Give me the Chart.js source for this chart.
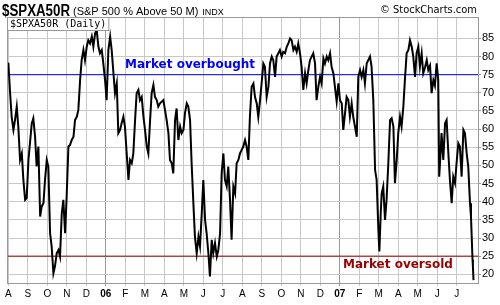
<!DOCTYPE html>
<html>
<head>
<meta charset="utf-8">
<script src="https://cdn.jsdelivr.net/npm/chart.js@4.4.1/dist/chart.umd.min.js"></script>
<style>
  html, body { margin: 0; padding: 0; background: #fff; }
  #wrap { position: relative; width: 500px; height: 305px; }
  canvas { position: absolute; left: 0; top: 0; }
</style>
</head>
<body>
<div id="wrap"><canvas id="c" width="500" height="305"></canvas></div>
<script>
// ---- Data ----
// months since 1 Aug 2005
const monthPos = [
 -0.06,0.00,0.09,0.17,0.26,0.34,0.43,0.51,0.60,0.69,0.77,0.86,0.94,1.03,1.20,1.28,1.37,1.45,1.54,1.63,1.71,1.80,1.88,1.97,
 2.05,2.14,2.22,2.31,2.39,2.48,2.57,2.65,2.74,2.82,2.91,2.99,3.08,3.16,3.25,3.34,3.42,3.51,3.59,3.68,3.76,3.85,3.93,
 4.02,4.10,4.19,4.28,4.36,4.45,4.53,4.62,4.70,4.79,4.87,4.96,5.04,5.13,5.22,5.30,5.39,5.47,5.56,5.64,5.73,5.81,5.90,
 5.98,6.07,6.16,6.24,6.33,6.41,6.50,6.58,6.67,6.75,6.84,6.93,7.01,7.10,7.18,7.27,7.35,7.44,7.52,7.61,7.69,7.78,7.95,
 8.12,8.21,8.29,8.38,8.46,8.55,8.63,8.72,8.81,8.89,8.98,9.06,9.15,9.23,9.32,9.40,9.49,9.57,9.66,9.75,9.83,9.92,10.00,
 10.09,10.17,10.26,10.34,10.43,10.51,10.60,10.69,10.77,10.86,10.94,11.03,11.11,11.20,11.28,11.37,11.45,11.54,11.63,
 11.71,11.80,11.88,11.97,12.05,12.14,12.22,12.31,12.39,12.48,12.57,12.65,12.74,12.82,12.91,12.99,13.08,13.16,13.25,
 13.34,13.42,13.51,13.59,13.68,13.76,13.85,13.93,14.02,14.10,14.19,14.28,14.36,14.45,14.53,14.62,14.70,14.79,14.87,
 14.96,15.04,15.13,15.22,15.30,15.39,15.47,15.64,15.73,15.81,15.90,15.99,16.07,16.16,16.24,16.33,16.41,16.50,16.58,
 16.67,16.75,16.84,16.93,17.01,17.10,17.18,17.27,17.35,17.44,17.52,17.61,17.69,17.78,17.87,17.95,18.04,18.12,18.21,
 18.29,18.38,18.46,18.55,18.63,18.72,18.81,18.89,18.98,19.03,19.10,19.15,19.23,19.32,19.40,19.49,19.58,19.66,19.75,
 19.83,19.92,20.00,20.09,20.17,20.26,20.34,20.43,20.52,20.60,20.69,20.77,20.86,20.94,21.03,21.11,21.20,21.28,21.37,
 21.46,21.54,21.63,21.71,21.80,21.88,21.97,22.05,22.10,22.17,22.22,22.31,22.40,22.48,22.57,22.65,22.74,22.82,22.91,
 22.99,23.08,23.16,23.25,23.34,23.42,23.51,23.59,23.68,23.73,23.81,23.83,23.86
];
// percent of S&P 500 stocks above their 50-day moving average
const pctAbove50 = [
 75.4,78.3,69.9,63.4,59.8,62.5,66.2,60.7,51.5,53.3,46.0,40.5,41.0,51.5,61.6,63.0,57.9,49.7,55.2,35.9,38.7,39.6,46.0,51.5,
 49.7,31.3,27.7,20.3,22.2,25.8,26.7,24.9,36.8,40.5,31.3,41.4,55.2,55.6,57.0,57.9,62.5,63.4,65.3,73.5,79.0,81.8,79.0,
 82.7,84.5,83.6,85.5,82.7,86.4,87.3,82.7,80.9,81.8,78.1,73.5,68.0,81.8,85.5,81.8,75.4,69.9,72.6,58.9,59.8,61.6,63.4,
 60.7,53.3,46.0,51.5,50.6,53.3,62.5,69.9,70.8,68.0,68.9,63.4,59.8,55.2,53.3,62.5,69.9,72.2,68.9,68.0,66.2,67.1,68.0,
 62.5,58.9,51.5,50.6,47.8,62.5,65.7,57.0,60.7,58.9,59.8,64.4,67.1,66.2,62.5,50.6,39.6,30.4,25.8,30.4,27.7,36.8,46.0,
 35.0,31.3,25.8,19.4,29.5,25.8,28.6,24.9,26.7,31.3,47.8,53.3,46.0,44.2,49.7,40.5,29.5,44.2,42.3,
 50.6,51.5,53.3,54.3,55.2,57.0,55.2,51.5,63.4,71.7,72.6,68.9,67.1,63.4,68.0,72.6,78.1,77.2,68.9,
 71.7,78.1,80.0,79.0,74.4,80.0,80.9,81.8,80.0,81.3,80.9,82.7,83.6,85.0,84.5,81.8,82.7,81.3,83.6,
 80.9,77.2,70.8,75.4,72.6,76.3,79.0,80.9,78.1,68.0,71.7,74.4,72.6,79.5,78.1,80.0,79.0,80.9,77.2,
 75.4,71.7,67.6,72.6,68.0,67.1,59.8,64.4,68.9,68.0,63.4,67.1,63.4,60.7,57.9,74.4,76.3,74.4,76.3,
 72.6,78.1,79.0,80.0,77.2,68.0,48.8,46.0,32.2,26.3,36.8,42.3,44.2,35.0,40.5,50.6,62.5,63.0,60.7,
 45.1,51.5,58.9,63.4,60.7,66.2,73.5,80.9,81.8,84.5,82.7,80.0,74.4,80.9,82.7,77.2,80.9,75.4,77.0,
 79.0,76.3,77.5,69.9,73.5,72.0,78.1,73.5,46.9,53.3,58.9,51.5,61.6,62.5,53.3,46.0,39.6,46.9,45.1,
 50.6,56.1,55.2,46.9,59.8,58.9,53.3,49.7,39.6,35.9,24.0,22.0,18.4
];
const monthLabels = ['A','S','O','N','D','06','F','M','A','M','J','J','A','S','O','N','D','07','F','M','A','M','J','J'];
const yTicks = [20,25,30,35,40,45,50,55,60,65,70,75,80,85];
const overbought = 75;
const oversold = 25;
const xMin = -0.07, xMax = 24.09;

const points = monthPos.map((m, i) => ({ x: m, y: pctAbove50[i] }));

const decor = {
  id: 'decor',
  afterDatasetsDraw(chart) {
    const { ctx, scales: { y } } = chart;
    ctx.save();
    ctx.font = 'bold 12px "DejaVu Sans"';
    ctx.textBaseline = 'middle';
    ctx.fillStyle = '#0000ff';
    ctx.fillText('Market overbought', 125, y.getPixelForValue(overbought) - 10);
    ctx.fillStyle = '#990000';
    ctx.fillText('Market oversold', 343, y.getPixelForValue(oversold) + 9);
    ctx.restore();
  },
  afterDraw(chart) {
    const { ctx, chartArea: a } = chart;
    ctx.save();
    ctx.strokeStyle = '#999999';
    ctx.lineWidth = 1;
    ctx.strokeRect(a.left + 0.5, a.top + 0.5, a.right - a.left, a.bottom - a.top);
    // inner legend box
    ctx.font = '10px "DejaVu Sans Mono"';
    const txt = '$SPXA50R (Daily)';
    const w = ctx.measureText(txt).width;
    ctx.fillStyle = '#ffffff';
    ctx.fillRect(a.left + 1, a.top + 1, w + 4, 12);
    ctx.strokeStyle = '#999999';
    ctx.strokeRect(a.left + 0.5, a.top + 0.5, w + 5, 13);
    ctx.fillStyle = '#000000';
    ctx.textBaseline = 'middle';
    ctx.fillText(txt, a.left + 3, a.top + 7.5);
    // header
    ctx.textBaseline = 'alphabetic';
    ctx.font = 'bold 16px "Liberation Sans"';
    const tw = ctx.measureText('$SPXA50R').width;
    ctx.save();
    ctx.translate(2, 15.5);
    ctx.scale(68 / tw, 1);
    ctx.fillText('$SPXA50R', 0, 0);
    ctx.restore();
    let x = 73;
    ctx.font = '11px "Liberation Sans"';
    ctx.fillText('(S&P 500 % Above 50 M)', x, 15);
    x += ctx.measureText('(S&P 500 % Above 50 M)').width + 4;
    ctx.font = '9px "Liberation Sans"';
    ctx.fillText('INDX', x, 15);
    ctx.font = '11px "DejaVu Sans Condensed", "DejaVu Sans"';
    ctx.textAlign = 'right';
    ctx.fillText('\u00A9 StockCharts.com', 477, 13);
    ctx.restore();
  }
};

new Chart(document.getElementById('c'), {
  type: 'line',
  data: {
    datasets: [
      {
        data: points,
        borderColor: '#000000',
        borderWidth: 2,
        pointRadius: 0,
        tension: 0,
        fill: false,
        order: 0
      },
      {
        data: [{ x: xMin, y: overbought }, { x: xMax, y: overbought }],
        borderColor: '#0000ff',
        borderWidth: 1,
        pointRadius: 0,
        fill: false,
        order: 1
      },
      {
        data: [{ x: xMin, y: oversold }, { x: xMax, y: oversold }],
        borderColor: '#990000',
        borderWidth: 1,
        pointRadius: 0,
        fill: false,
        order: 2
      }
    ]
  },
  options: {
    responsive: false,
    animation: false,
    events: [],
    layout: { padding: { left: 7, top: 17, right: 0, bottom: 0 } },
    plugins: { legend: { display: false }, tooltip: { enabled: false }, title: { display: false } },
    scales: {
      x: {
        type: 'linear',
        min: xMin,
        max: xMax,
        afterBuildTicks(s) { s.ticks = monthLabels.map((_, i) => ({ value: i })); },
        afterFit(s) { s.height = 22; },
        ticks: {
          autoSkip: false,
          maxRotation: 0,
          padding: 2,
          color: '#000',
          font: (c) => ({ family: '"Liberation Sans"', size: 10, weight: (c.tick && (c.tick.value === 5 || c.tick.value === 17)) ? 'bold' : 'normal' }),
          callback: (v) => monthLabels[v] ?? ''
        },
        grid: {
          color: (c) => (c.tick && (c.tick.value === 5 || c.tick.value === 17)) ? '#999999' : '#c8c8c8',
          lineWidth: 1,
          drawTicks: true,
          tickLength: 3
        },
        border: { display: false }
      },
      y: {
        position: 'right',
        min: 17.6,
        max: 90.9,
        afterBuildTicks(s) { s.ticks = yTicks.map(v => ({ value: v })); },
        afterFit(s) { s.width = 22; },
        ticks: {
          color: '#000',
          padding: 1,
          font: { family: '"Liberation Sans"', size: 11 },
          callback: (v) => String(v)
        },
        grid: { color: '#c8c8c8', lineWidth: 1, drawTicks: true, tickLength: 3, tickColor: '#999999' },
        border: { display: false }
      }
    }
  },
  plugins: [decor]
});
</script>
</body>
</html>
